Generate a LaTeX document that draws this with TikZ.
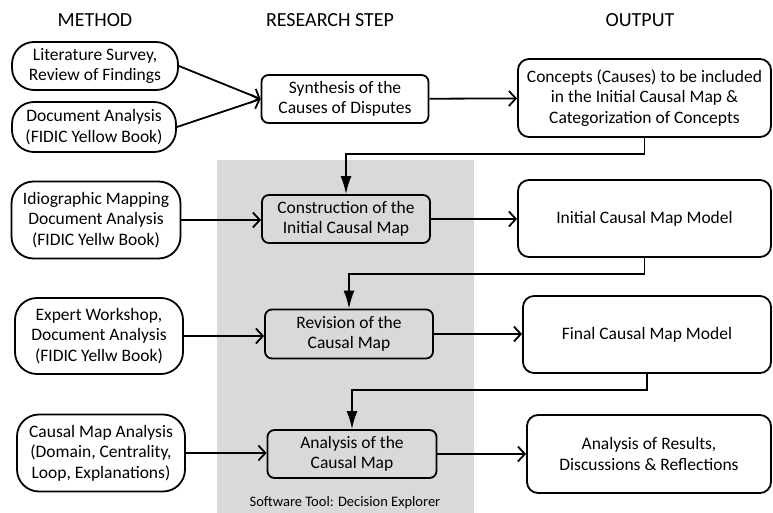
\documentclass[tikz,border=0pt]{standalone}
\usepackage{fontspec}
\setmainfont{Carlito}
\usetikzlibrary{arrows.meta}
\begin{document}
\begin{tikzpicture}[x=1pt,y=-1pt,
  base/.style={draw=black,line width=1.8pt,align=center,inner sep=0pt,font=\fontsize{17.5}{20.5}\selectfont},
  methodbox/.style={base,rounded corners=22pt},
  stepbox/.style={base,rounded corners=7pt},
  outbox/.style={base,rounded corners=11pt},
  hdr/.style={font=\fontsize{20}{24}\selectfont,inner sep=0pt},
  conn/.style={line width=1.8pt,-{Straight Barb[length=7pt,width=15pt,line width=1.8pt]}},
  downconn/.style={line width=1.8pt,-{Latex[length=18pt,width=11pt]}}]
\useasboundingbox (0,0) rectangle (773,513);
\fill[black!15] (217,160) rectangle (474,513);
\node[hdr] (h1) at (95,20) {METHOD};
\node[hdr] (h2) at (330,20) {RESEARCH STEP};
\node[hdr] (h3) at (640,20) {OUTPUT};
% method
\node[methodbox,minimum width=166pt,minimum height=48pt] (m1) at (95,66) {Literature Survey,\\Review of Findings};
\node[methodbox,minimum width=164pt,minimum height=50pt] (m2) at (94,127) {Document Analysis\\(FIDIC Yellow Book)};
\node[methodbox,minimum width=169pt,minimum height=77pt] (m3) at (96,220) {Idiographic Mapping\\Document Analysis\\(FIDIC Yellw Book)};
\node[methodbox,minimum width=168pt,minimum height=76pt] (m4) at (99,336) {Expert Workshop,\\Document Analysis\\(FIDIC Yellw Book)};
\node[methodbox,minimum width=168pt,minimum height=77pt] (m5) at (101,453) {Causal Map Analysis\\(Domain, Centrality,\\Loop, Explanations)};
% steps
\node[stepbox,fill=white,minimum width=167pt,minimum height=48pt] (r1) at (345,99) {Synthesis of the\\Causes of Disputes};
\node[stepbox,minimum width=168pt,minimum height=48pt] (r2) at (346,219) {Construction of the\\Initial Causal Map};
\node[stepbox,minimum width=168pt,minimum height=49pt] (r3) at (349,334) {Revision of the\\Causal Map};
\node[stepbox,minimum width=169pt,minimum height=48pt] (r4) at (352,454) {Analysis of the\\Causal Map};
\node[font=\fontsize{14.5}{17}\selectfont,inner sep=0pt] (sw) at (345,503) {Software Tool: Decision Explorer};
% outputs
\node[outbox,minimum width=253pt,minimum height=78pt] (o1) at (644.5,98) {Concepts (Causes) to be included\\in the Initial Causal Map \&\\Categorization of Concepts};
\node[outbox,minimum width=253pt,minimum height=77pt] (o2) at (644.5,218.5) {Initial Causal Map Model};
\node[outbox,minimum width=248pt,minimum height=77pt] (o3) at (647,334.5) {Final Causal Map Model};
\node[outbox,minimum width=244pt,minimum height=78pt] (o4) at (649,454) {Analysis of Results,\\Discussions \& Reflections};
% connectors
\draw[conn] (m1.east) -- (r1.west);
\draw[conn] (m2.east) -- (r1.west);
\draw[conn] (r1) -- (o1);
\draw[conn] (m3) -- (m3.east -| r2.west);
\draw[conn] (r2) -- (r2.east -| o2.west);
\draw[conn] (m4.east) -- (m4.east -| r3.west);
\draw[conn] (r3) -- (r3.east -| o3.west);
\draw[conn] (m5.east) -- (m5.east -| r4.west);
\draw[conn] (r4) -- (r4.east -| o4.west);
\draw[downconn] (o1.south) -- ++(0,16) -| (r2.north);
\draw[downconn] (o2.south) -- ++(0,16) -| (r3.north);
\draw[downconn] (o3.south) -- ++(0,16) -| (r4.north);
\end{tikzpicture}
\end{document}
